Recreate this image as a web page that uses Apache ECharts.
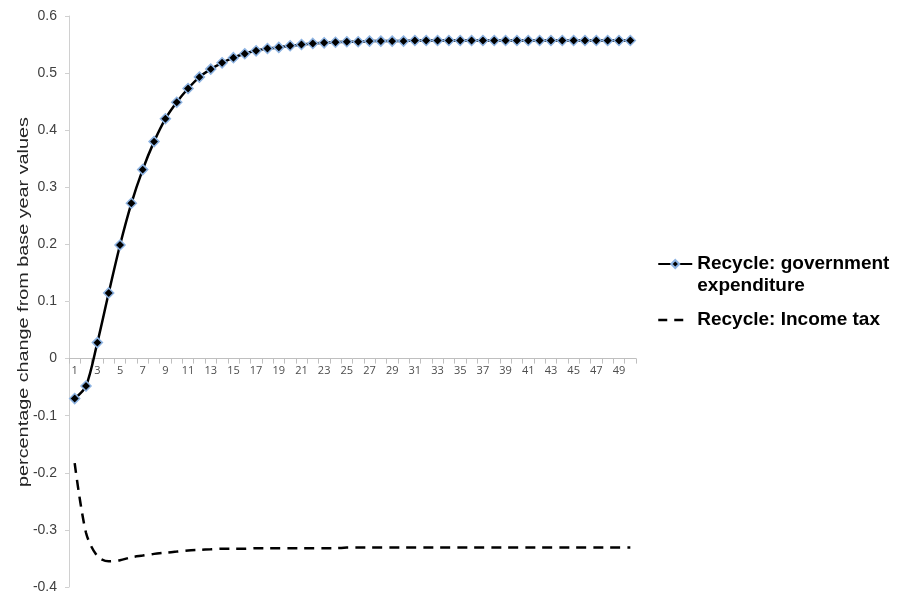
<!DOCTYPE html>
<html>
<head>
<meta charset="utf-8">
<script src="https://cdn.jsdelivr.net/npm/echarts@6/dist/echarts.min.js"></script>
<style>html,body{margin:0;padding:0;background:#fff;}#c{width:899px;height:595px;}</style>
</head>
<body>
<div id="c"></div>
<script>
const categories = Array.from({length: 50}, (_, i) => String(i + 1));
const govExpenditure = [
  -0.070, -0.048, 0.028, 0.115, 0.199, 0.272, 0.331, 0.380, 0.420, 0.449,
  0.473, 0.493, 0.507, 0.518, 0.527, 0.534, 0.539, 0.543, 0.545, 0.548,
  0.550, 0.552, 0.553, 0.554, 0.555, 0.555, 0.556, 0.556, 0.556, 0.556,
  0.557, 0.557, 0.557, 0.557, 0.557, 0.557, 0.557, 0.557, 0.557, 0.557,
  0.557, 0.557, 0.557, 0.557, 0.557, 0.557, 0.557, 0.557, 0.557, 0.557
];
const incomeTax = [
  -0.183, -0.305, -0.346, -0.355, -0.353, -0.348, -0.345, -0.342, -0.340, -0.338,
  -0.336, -0.335, -0.334, -0.333, -0.333, -0.333, -0.332, -0.332, -0.332, -0.332,
  -0.332, -0.332, -0.332, -0.332, -0.331, -0.331, -0.331, -0.331, -0.331, -0.331,
  -0.331, -0.331, -0.331, -0.331, -0.331, -0.331, -0.331, -0.331, -0.331, -0.331,
  -0.331, -0.331, -0.331, -0.331, -0.331, -0.331, -0.331, -0.331, -0.331, -0.331
];
const seriesNames = ['Recycle: government expenditure', 'Recycle: Income tax'];
const yAxisTitle = 'percentage change from base year values';

const gridTop = 16, gridBottom = 8, H = 595;
const yMin = -0.4, yMax = 0.6;
// offset so the category axis sits on the zero line (line, ticks and labels together)
const plotH = H - gridTop - gridBottom;
const zeroOffset = -(plotH * (0 - yMin) / (yMax - yMin));

const chart = echarts.init(document.getElementById('c'), null, {renderer: 'canvas'});
chart.setOption({
  animation: false,
  backgroundColor: '#ffffff',
  grid: {left: 69, right: 263, top: gridTop, bottom: gridBottom, containLabel: false},
  graphic: [{
    type: 'text',
    x: 24, y: 302,
    rotation: Math.PI / 2,
    scaleX: 1.32,
    style: {
      text: yAxisTitle,
      font: '15px "Liberation Sans"',
      fill: '#262626',
      textAlign: 'center',
      textVerticalAlign: 'middle'
    }
  }],
  legend: {
    orient: 'vertical',
    left: 652,
    top: 226,
    padding: 5,
    itemGap: 12,
    itemWidth: 34,
    itemHeight: 10,
    data: [
      {name: seriesNames[0]},
      {name: seriesNames[1], itemStyle: {color: 'rgba(0,0,0,0)', borderWidth: 0, opacity: 0},
       lineStyle: {type: [9, 7, 9, 9], width: 2.5, color: '#000'}}
    ],
    formatter: n => n === seriesNames[0] ? ' \nRecycle: government\nexpenditure' : n,
    textStyle: {fontFamily: 'Liberation Sans', fontWeight: 'bold', fontSize: 19, color: '#000', lineHeight: 22},
    selectedMode: false
  },
  xAxis: {
    type: 'category',
    data: categories,
    boundaryGap: true,
    position: 'bottom',
    offset: zeroOffset,
    axisLine: {onZero: false, lineStyle: {color: '#bfbfbf', width: 1}},
    axisTick: {show: true, interval: 0, length: 5, lineStyle: {color: '#bfbfbf'}},
    axisLabel: {interval: 1, margin: 7, fontSize: 11, color: '#4d4d4d', fontFamily: 'Open Sans'},
    splitLine: {show: false}
  },
  yAxis: {
    type: 'value',
    min: yMin, max: yMax, interval: 0.1,
    axisLine: {show: true, lineStyle: {color: '#d0d0d0', width: 1}},
    axisTick: {show: true, length: 4, lineStyle: {color: '#d0d0d0'}},
    axisLabel: {
      margin: 12, fontSize: 14, color: '#404040', fontFamily: 'Liberation Sans',
      formatter: v => Math.abs(v) < 1e-9 ? '0' : (Math.round(v * 10) / 10).toFixed(1)
    },
    splitLine: {show: false}
  },
  series: [
    {
      name: seriesNames[0],
      type: 'line',
      data: govExpenditure,
      smooth: 0.3,
      symbol: 'diamond',
      symbolSize: 10,
      showAllSymbol: true,
      lineStyle: {color: '#000', width: 2.5},
      itemStyle: {color: '#000', borderColor: '#8db3e2', borderWidth: 1.5}
    },
    {
      name: seriesNames[1],
      type: 'line',
      data: incomeTax,
      smooth: 0.3,
      showSymbol: false,
      symbol: 'none',
      lineStyle: {color: '#000', width: 2.5, type: [10, 7]},
      itemStyle: {color: '#000'}
    }
  ]
});
</script>
</body>
</html>
